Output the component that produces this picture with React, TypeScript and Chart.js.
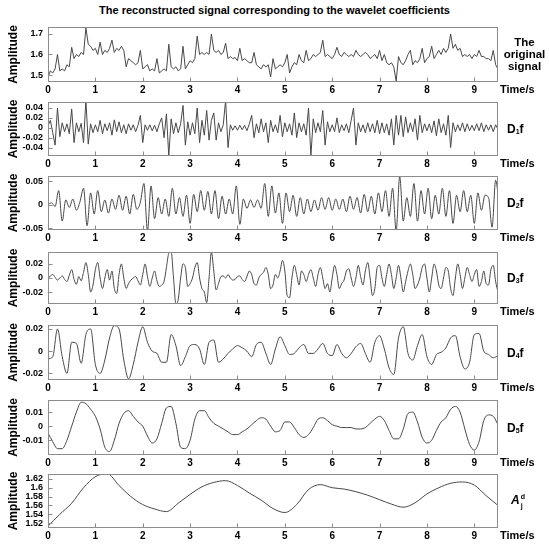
import React, { useEffect, useRef } from "react";
import { Chart, registerables } from "chart.js";

Chart.register(...registerables);

// ---------- data ----------
const TIME_TICKS = [0, 1, 2, 3, 4, 5, 6, 7, 8, 9];
const TIME_MAX = 9.5;

const ORIGINAL_STEP = 0.05;
const ORIGINAL = [
  1.49,1.52,1.51,1.53,1.60,1.52,1.53,1.52,1.55,1.54,
  1.635,1.58,1.60,1.59,1.61,1.60,1.73,1.65,1.64,1.62,
  1.63,1.60,1.66,1.60,1.62,1.61,1.63,1.67,1.61,1.63,
  1.62,1.64,1.62,1.54,1.58,1.57,1.56,1.55,1.56,1.62,
  1.53,1.54,1.55,1.52,1.53,1.52,1.58,1.51,1.52,1.53,
  1.52,1.65,1.54,1.53,1.54,1.52,1.53,1.64,1.53,1.55,
  1.57,1.56,1.58,1.69,1.60,1.61,1.60,1.61,1.60,1.70,
  1.62,1.61,1.62,1.60,1.61,1.655,1.58,1.59,1.58,1.585,
  1.57,1.63,1.57,1.58,1.57,1.56,1.56,1.61,1.55,1.54,
  1.53,1.55,1.54,1.55,1.49,1.58,1.53,1.54,1.55,1.54,
  1.56,1.60,1.51,1.54,1.56,1.55,1.60,1.57,1.56,1.62,
  1.57,1.58,1.60,1.59,1.60,1.61,1.67,1.59,1.60,1.59,
  1.58,1.60,1.635,1.60,1.59,1.61,1.60,1.59,1.60,1.59,
  1.62,1.60,1.59,1.60,1.61,1.60,1.58,1.59,1.60,1.58,
  1.62,1.57,1.60,1.56,1.55,1.56,1.54,1.47,1.59,1.56,
  1.55,1.57,1.60,1.62,1.55,1.57,1.56,1.58,1.63,1.56,
  1.58,1.59,1.64,1.58,1.60,1.62,1.60,1.63,1.61,1.63,
  1.70,1.63,1.65,1.62,1.63,1.59,1.60,1.59,1.60,1.58,
  1.60,1.59,1.62,1.59,1.59,1.58,1.58,1.57,1.62,1.55,
  1.53,
];

const D1_STEP = 0.05;
const D1 = [
  .004,.015,-.01,-.035,.04,-.018,.01,-.008,.008,-.012,
  .038,-.03,.01,-.008,.009,-.03,.056,-.033,.008,-.01,
  .006,-.008,.015,-.012,.008,-.006,.01,-.015,.016,-.008,
  .012,-.01,.006,-.012,.008,-.005,.006,-.008,.005,.025,
  -.03,.006,-.005,.006,-.006,.005,-.008,.008,.02,-.02,
  .028,-.057,.018,-.012,.01,-.01,.008,.045,-.035,.012,
  -.015,.01,-.012,.04,-.03,.015,-.015,.035,-.025,.015,
  .03,-.025,.01,-.008,.006,.056,-.04,.006,-.005,.004,
  -.005,.005,-.004,.005,-.006,.008,.025,-.02,.008,-.01,
  .018,-.008,.01,-.03,.015,-.008,.006,-.01,.025,-.018,
  .01,-.008,.008,-.015,.03,-.02,.01,-.008,.008,-.015,
  .04,-.057,.018,-.01,.01,-.008,.035,-.035,.012,-.008,
  .006,-.008,.02,-.01,.006,-.006,.008,-.01,.015,.04,
  -.035,.01,-.008,.006,-.01,.01,-.008,.008,-.01,.015,
  -.012,.01,-.01,.008,-.015,.018,-.035,.025,-.015,.025,
  -.018,.022,-.01,.01,-.008,.018,-.025,.025,-.01,.008,
  -.006,.008,-.01,.014,-.016,.018,-.01,.008,-.015,.025,
  -.04,.01,-.008,.006,-.006,.01,-.008,.008,-.006,.005,
  -.006,.008,-.006,.01,-.008,.006,-.005,.006,-.008,.006,
  -.003,
];

const D2_STEP = 0.075;
const D2 = [
  0,.004,-.004,.03,-.035,.01,-.006,.012,-.012,.006,
  .035,-.045,.025,-.02,.03,-.015,.01,-.018,.012,-.01,
  .02,-.012,.018,-.02,.022,-.01,.005,.045,-.056,.04,
  -.03,.015,-.02,.012,-.025,.035,-.02,.015,-.025,.02,
  -.04,.022,-.015,.03,-.012,.028,-.02,.03,-.03,.018,
  -.02,.012,-.02,.04,-.042,.012,-.008,.01,-.006,.01,
  -.008,.045,-.025,.04,-.018,.025,-.04,.025,-.015,.02,
  -.025,.015,-.02,.012,-.015,.01,-.012,.015,-.01,.015,
  -.012,.012,-.01,.012,-.015,.018,-.01,.015,-.018,.022,
  -.015,.018,-.02,.025,-.015,.03,-.025,.035,-.056,.06,
  -.035,.015,-.025,.045,-.035,.03,-.02,.035,-.03,.02,
  -.02,.035,-.025,.03,-.04,.02,-.015,.03,-.015,.02,
  -.04,.025,-.012,.02,.015,-.048,.052,0,
];

const D3_STEP = 0.05;
const D3 = [
  -.001,.003,.005,.001,-.003,0,.003,-.002,-.005,.004,
  .012,-.002,-.009,.002,-.004,.008,.022,.005,-.02,-.01,
  .012,.022,0,-.015,0,.012,-.003,.01,-.015,-.022,
  .005,.02,0,-.015,-.008,-.003,0,.002,-.004,-.01,
  .005,.02,.002,-.012,0,.01,-.004,-.012,-.01,-.005,
  .015,.035,.037,0,-.037,-.03,0,.02,.015,-.012,
  -.008,0,.015,.022,0,-.015,-.02,-.035,0,.037,
  .01,-.017,-.008,.002,.003,0,.005,0,-.003,-.002,
  .002,.003,-.002,-.005,.002,.01,.005,-.008,-.01,0,
  .005,.008,.015,.005,-.015,-.01,.005,0,.01,.025,
  .01,-.025,-.028,0,.018,.005,-.01,.01,.005,-.005,
  .005,.012,0,-.012,.005,.015,0,-.015,-.008,-.02,
  0,.018,.005,-.015,-.008,-.003,.01,.013,0,-.012,
  0,.018,.002,-.01,.01,.022,0,-.025,-.015,.015,
  .018,0,-.012,.005,.02,.005,-.015,0,.018,0,
  -.02,-.005,.01,.02,.005,-.015,-.01,0,.015,.02,
  0,-.02,0,.02,.01,-.01,-.015,0,.015,.01,
  -.015,-.025,0,.02,.005,-.015,0,.015,.005,-.005,
  .005,.012,-.012,-.005,.01,-.008,-.01,.012,.018,-.005,
  -.02,
];

const D4_STEP = 0.1;
const D4 = [
  -.007,-.005,.02,-.005,-.02,.008,.007,-.011,.015,.02,
  -.012,-.02,-.008,.012,.023,.02,-.008,-.025,-.012,.008,
  .022,.008,0,-.002,-.01,-.01,.015,.005,-.013,-.005,
  .005,.006,.002,-.012,.008,.01,-.01,-.007,-.002,.002,
  .005,.003,0,-.005,.006,.008,-.002,-.012,.002,.013,
  .005,-.003,-.002,.003,.006,-.002,-.002,.002,.007,-.002,
  -.004,.006,-.002,-.006,-.002,.004,.007,-.002,-.01,.008,
  .014,.002,-.015,-.021,.012,.022,-.002,-.008,.005,.015,
  -.005,-.012,-.003,-.001,.003,.012,.014,-.005,-.016,-.01,
  .015,.016,0,-.003,-.006,-.004,
];

const D5_STEP = 0.1;
const D5 = [
  -.005,-.011,-.016,-.016,-.01,0,.01,.017,.016,.012,
  .007,-.002,-.015,-.018,-.01,.002,.009,.011,.007,.003,
  0,-.007,-.012,-.009,.002,.013,.014,.002,-.015,-.016,
  -.01,.005,.011,.011,.006,.002,0,-.002,-.004,-.006,
  -.006,-.004,-.002,.001,.004,.006,.005,0,-.004,-.003,
  .003,.003,-.001,-.006,-.008,-.006,-.001,.005,.006,.004,
  .001,0,-.001,-.001,-.001,-.002,-.002,-.001,.002,.005,
  .007,.004,-.003,-.009,-.009,-.002,.009,.01,.003,-.008,
  -.012,-.01,-.003,.003,.006,.012,.014,.01,-.002,-.013,
  -.017,-.011,.004,.008,.007,.001,
];

const APPROX_STEP = 0.25;
const APPROX = [
  1.513,1.54,1.565,1.6,1.625,1.632,1.605,1.58,1.562,1.552,
  1.546,1.565,1.585,1.602,1.612,1.616,1.605,1.588,1.572,1.553,
  1.544,1.562,1.596,1.607,1.6,1.597,1.591,1.583,1.573,1.563,
  1.556,1.566,1.586,1.6,1.61,1.613,1.606,1.582,1.56,
];

const ORIGINAL_TICKS = [1.5, 1.6, 1.7];
const D1_TICKS = [-0.04, -0.02, 0, 0.02, 0.04];
const D2_TICKS = [-0.05, 0, 0.05];
const D3_TICKS = [-0.02, 0, 0.02];
const D4_TICKS = [-0.02, 0, 0.02];
const D5_TICKS = [-0.01, 0, 0.01];
const APPROX_TICKS = [1.52, 1.54, 1.56, 1.58, 1.6, 1.62];

const ORIGINAL_RANGE = [1.466, 1.734];
const D1_RANGE = [-0.057, 0.052];
const D2_RANGE = [-0.054, 0.061];
const D3_RANGE = [-0.037, 0.037];
const D4_RANGE = [-0.026, 0.0236];
const D5_RANGE = [-0.0205, 0.0186];
const APPROX_RANGE = [1.509, 1.631];

// ---------- layout / style ----------
const FONT = "'Liberation Sans', Arial, sans-serif";
const LINE_COLOR = "#484848";
const FRAME_COLOR = "#8c8c8c";
const PAD_TOP = 4;
const X_AXIS_H = 18;
const BOX_LEFT = 48;
const BOX_RIGHT = 498;

const PANELS = [
  { values: ORIGINAL, step: ORIGINAL_STEP, ticks: ORIGINAL_TICKS, range: ORIGINAL_RANGE, smooth: false, top: 27, bottom: 82 },
  { values: D1, step: D1_STEP, ticks: D1_TICKS, range: D1_RANGE, smooth: false, top: 102, bottom: 156 },
  { values: D2, step: D2_STEP, ticks: D2_TICKS, range: D2_RANGE, smooth: true, top: 176, bottom: 230 },
  { values: D3, step: D3_STEP, ticks: D3_TICKS, range: D3_RANGE, smooth: true, top: 252, bottom: 304 },
  { values: D4, step: D4_STEP, ticks: D4_TICKS, range: D4_RANGE, smooth: true, top: 325, bottom: 380 },
  { values: D5, step: D5_STEP, ticks: D5_TICKS, range: D5_RANGE, smooth: true, top: 400, bottom: 455 },
  { values: APPROX, step: APPROX_STEP, ticks: APPROX_TICKS, range: APPROX_RANGE, smooth: true, top: 474, bottom: 528 },
];

const fmt = (v: number) => String(parseFloat(Number(v).toFixed(4)));

const framePlugin = {
  id: "frameBox",
  afterDatasetsDraw(chart: any) {
    const { ctx, chartArea: a, scales } = chart;
    ctx.save();
    ctx.strokeStyle = FRAME_COLOR;
    ctx.lineWidth = 1;
    const l = Math.round(a.left) + 0.5;
    const t = Math.round(a.top) + 0.5;
    const r = Math.round(a.right) - 0.5;
    const b = Math.round(a.bottom) - 0.5;
    ctx.strokeRect(l, t, r - l, b - t);
    ctx.beginPath();
    for (const tk of scales.x.ticks) {
      const x = Math.round(scales.x.getPixelForValue(tk.value)) + 0.5;
      ctx.moveTo(x, b);
      ctx.lineTo(x, b - 4);
    }
    for (const tk of scales.y.ticks) {
      const y = Math.round(scales.y.getPixelForValue(tk.value)) + 0.5;
      ctx.moveTo(l, y);
      ctx.lineTo(l + 4, y);
    }
    ctx.stroke();
    ctx.restore();
  },
};

const sideLabelStyle: React.CSSProperties = {
  position: "absolute",
  left: 500,
  width: 49,
  textAlign: "center",
  fontWeight: "bold",
  fontSize: 12,
};

export default function App() {
  const refs = useRef<(HTMLCanvasElement | null)[]>([]);

  useEffect(() => {
    const charts = PANELS.map((p, i) => {
      const canvas = refs.current[i] as HTMLCanvasElement;
      const data = p.values.map((v, k) => ({ x: k * p.step, y: v }));
      return new Chart(canvas, {
        type: "line",
        data: {
          datasets: [
            {
              data,
              borderColor: LINE_COLOR,
              borderWidth: 1,
              pointRadius: 0,
              fill: false,
              tension: 0,
              cubicInterpolationMode: p.smooth ? "monotone" : "default",
            } as any,
          ],
        },
        options: {
          animation: false,
          responsive: false,
          devicePixelRatio: 1,
          events: [],
          layout: { padding: { left: 6, right: 549 - BOX_RIGHT, top: PAD_TOP, bottom: 0 } },
          plugins: { legend: { display: false }, tooltip: { enabled: false } },
          scales: {
            x: {
              type: "linear",
              min: 0,
              max: TIME_MAX,
              grid: { display: false, drawTicks: false },
              border: { display: false },
              afterBuildTicks: (s: any) => {
                s.ticks = TIME_TICKS.map((v) => ({ value: v }));
              },
              afterFit: (s: any) => {
                s.height = X_AXIS_H;
                s.paddingLeft = 0;
                s.paddingRight = 0;
              },
              ticks: {
                padding: 2,
                color: "#000",
                maxRotation: 0,
                autoSkip: false,
                font: { family: FONT, size: 10, weight: "bold" },
                callback: (v: any) => fmt(v),
              },
            },
            y: {
              type: "linear",
              min: p.range[0],
              max: p.range[1],
              grid: { display: false, drawTicks: false },
              border: { display: false },
              afterBuildTicks: (s: any) => {
                s.ticks = p.ticks.map((v) => ({ value: v }));
              },
              afterFit: (s: any) => {
                s.width = BOX_LEFT - 6;
                s.paddingTop = 0;
                s.paddingBottom = 0;
              },
              title: {
                display: true,
                text: "Amplitude",
                color: "#000",
                padding: 0,
                font: { family: FONT, size: 12, weight: "bold" },
              },
              ticks: {
                padding: 5,
                color: "#000",
                autoSkip: false,
                font: { family: FONT, size: 9, weight: "bold" },
                callback: (v: any) => fmt(v),
              },
            },
          },
        } as any,
        plugins: [framePlugin],
      });
    });
    return () => charts.forEach((c) => c.destroy());
  }, []);

  return (
    <div
      style={{
        position: "fixed",
        left: 0,
        top: 0,
        width: 549,
        height: 550,
        background: "#fff",
        fontFamily: FONT,
        color: "#000",
        overflow: "hidden",
      }}
    >
      <div
        style={{
          position: "absolute",
          top: 4,
          left: 0,
          width: 549,
          textAlign: "center",
          fontWeight: "bold",
          fontSize: 11,
        }}
      >
        The reconstructed signal corresponding to the wavelet coefficients
      </div>
      {PANELS.map((p, i) => {
        const h = p.bottom - p.top + PAD_TOP + X_AXIS_H;
        return (
          <canvas
            key={i}
            ref={(el) => {
              refs.current[i] = el;
            }}
            width={549}
            height={h}
            style={{ position: "absolute", left: 0, top: p.top - PAD_TOP, width: 549, height: h }}
          />
        );
      })}
      {PANELS.map((p, i) => (
        <div
          key={"t" + i}
          style={{
            position: "absolute",
            left: 500,
            top: p.bottom + 1,
            fontWeight: "bold",
            fontSize: 11,
            whiteSpace: "nowrap",
          }}
        >
          Time/s
        </div>
      ))}
      <div style={{ ...sideLabelStyle, top: 36, lineHeight: "12px", fontSize: 11.5 }}>
        The
        <br />
        original
        <br />
        signal
      </div>
      {["1", "2", "3", "4", "5"].map((n, i) => {
        const p = PANELS[i + 1];
        const c = (p.top + p.bottom) / 2;
        return (
          <div key={"d" + n} style={{ ...sideLabelStyle, left: 507, width: "auto", top: c - 8, lineHeight: "16px" }}>
            D<span style={{ fontSize: 7, position: "relative", top: 1 }}>{n}</span>f
          </div>
        );
      })}
      <div
        style={{
          ...sideLabelStyle,
          left: 511,
          width: "auto",
          top: (PANELS[6].top + PANELS[6].bottom) / 2 - 9,
          lineHeight: "16px",
          fontStyle: "italic",
        }}
      >
        A
        <span style={{ display: "inline-block", position: "relative", width: 6, height: 16, verticalAlign: "top" }}>
          <span style={{ position: "absolute", left: 1, top: -3, fontSize: 7, fontStyle: "normal" }}>d</span>
          <span style={{ position: "absolute", left: 1, top: 6, fontSize: 7, fontStyle: "normal" }}>j</span>
        </span>
      </div>
    </div>
  );
}
